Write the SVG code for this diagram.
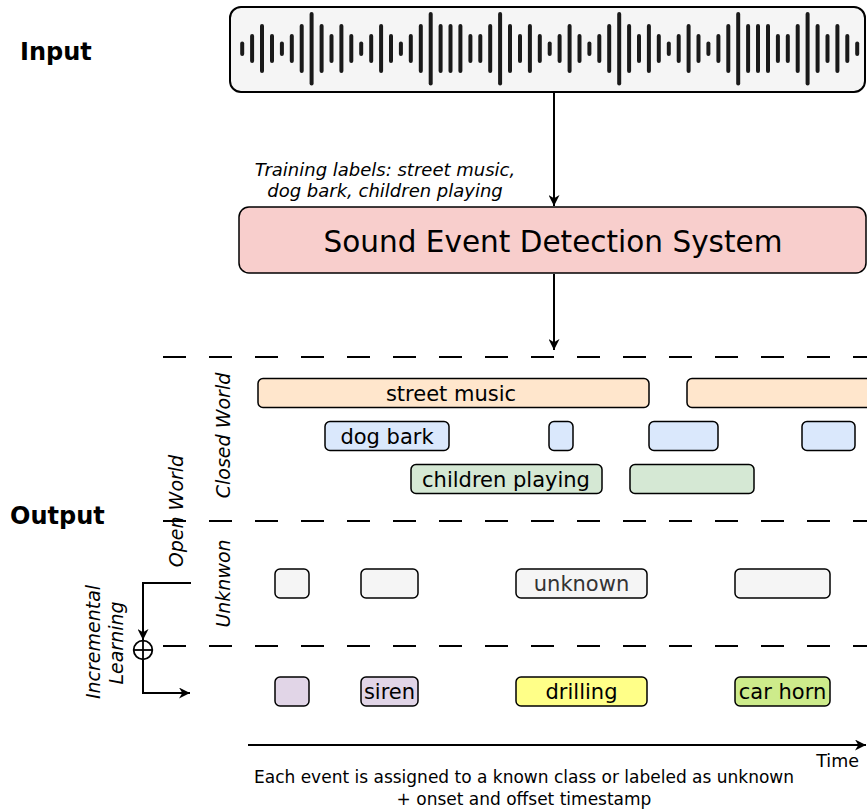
<svg xmlns="http://www.w3.org/2000/svg" xmlns:xlink="http://www.w3.org/1999/xlink" width="867" height="810" viewBox="0 0 867 810">
<style>
  text { font-family: "DejaVu Sans", Verdana, sans-serif; fill: #000; }
  .title { font-weight: bold; font-size: 24px; }
  .lbl { font-size: 21px; text-anchor: middle; }
  .side { font-size: 19px; font-style: italic; text-anchor: middle; }
  .note { font-size: 17px; text-anchor: middle; }
  .ev { stroke: #000; stroke-width: 1.5; }
  .dash { stroke: #000; stroke-width: 2; stroke-dasharray: 23 23; fill: none; }
  .conn { stroke: #000; stroke-width: 2; fill: none; }
  .bar { stroke: #1a1a1a; stroke-width: 4; stroke-linecap: round; }
</style>
<defs>
  <marker id="arr" viewBox="0 0 10 10" refX="10" refY="5" markerWidth="11" markerHeight="11" markerUnits="userSpaceOnUse" orient="auto">
    <path d="M0,0 L10,5 L0,10 L3,5 z" fill="#000"/>
  </marker>
  <line id="bS" class="bar" x1="0" y1="43.5" x2="0" y2="54"/>
  <line id="bM" class="bar" x1="0" y1="36" x2="0" y2="61"/>
  <line id="bT" class="bar" x1="0" y1="26" x2="0" y2="71"/>
  <line id="bX" class="bar" x1="0" y1="14" x2="0" y2="83.5"/>
</defs>

<g id="label-input"><text class="title" x="20" y="60" font-size="27">Input</text></g>
<g id="label-output"><text class="title" x="10" y="524">Output</text></g>

<g id="audio-input">
  <rect x="230" y="7" width="635" height="85" rx="11" fill="#f5f5f5" stroke="#000" stroke-width="2"/>
  <use xlink:href="#bS" x="242.2"/><use xlink:href="#bM" x="252.1"/><use xlink:href="#bT" x="262.0"/><use xlink:href="#bM" x="272.0"/>
  <use xlink:href="#bS" x="281.9"/><use xlink:href="#bM" x="291.8"/><use xlink:href="#bT" x="301.7"/><use xlink:href="#bX" x="311.6"/>
  <use xlink:href="#bT" x="321.6"/><use xlink:href="#bM" x="331.5"/><use xlink:href="#bT" x="341.4"/><use xlink:href="#bM" x="351.3"/>
  <use xlink:href="#bS" x="361.2"/><use xlink:href="#bM" x="371.2"/><use xlink:href="#bT" x="381.1"/><use xlink:href="#bM" x="391.0"/>
  <use xlink:href="#bS" x="400.9"/><use xlink:href="#bM" x="410.8"/><use xlink:href="#bT" x="420.8"/><use xlink:href="#bX" x="430.7"/>
  <use xlink:href="#bT" x="440.6"/><use xlink:href="#bT" x="450.5"/><use xlink:href="#bT" x="460.4"/><use xlink:href="#bM" x="470.4"/>
  <use xlink:href="#bM" x="480.3"/><use xlink:href="#bT" x="490.2"/><use xlink:href="#bX" x="500.1"/><use xlink:href="#bT" x="510.0"/>
  <use xlink:href="#bM" x="520.0"/><use xlink:href="#bT" x="529.9"/><use xlink:href="#bM" x="539.8"/><use xlink:href="#bS" x="549.7"/>
  <use xlink:href="#bM" x="559.6"/><use xlink:href="#bT" x="569.6"/><use xlink:href="#bM" x="579.5"/><use xlink:href="#bS" x="589.4"/>
  <use xlink:href="#bM" x="599.3"/><use xlink:href="#bT" x="609.2"/><use xlink:href="#bX" x="619.2"/><use xlink:href="#bT" x="629.1"/>
  <use xlink:href="#bM" x="639.0"/><use xlink:href="#bT" x="648.9"/><use xlink:href="#bM" x="658.8"/><use xlink:href="#bS" x="668.8"/>
  <use xlink:href="#bM" x="678.7"/><use xlink:href="#bT" x="688.6"/><use xlink:href="#bM" x="698.5"/><use xlink:href="#bS" x="708.4"/>
  <use xlink:href="#bM" x="718.4"/><use xlink:href="#bT" x="728.3"/><use xlink:href="#bX" x="738.2"/><use xlink:href="#bT" x="748.1"/>
  <use xlink:href="#bT" x="758.0"/><use xlink:href="#bT" x="768.0"/><use xlink:href="#bM" x="777.9"/><use xlink:href="#bM" x="787.8"/>
  <use xlink:href="#bT" x="797.7"/><use xlink:href="#bX" x="807.6"/><use xlink:href="#bT" x="817.6"/><use xlink:href="#bM" x="827.5"/>
  <use xlink:href="#bT" x="837.4"/><use xlink:href="#bM" x="847.3"/><use xlink:href="#bS" x="857.2"/>
</g>

<g id="training-labels">
  <text x="385" y="176" font-size="18" font-style="italic" text-anchor="middle">Training labels: street music,</text>
  <text x="385" y="197" font-size="18" font-style="italic" text-anchor="middle">dog bark, children playing</text>
</g>

<g id="sed-system">
  <rect x="239" y="207" width="627" height="66" rx="10" fill="#f8cecc" stroke="#000" stroke-width="1.5"/>
  <text x="553" y="252" font-size="29.5" text-anchor="middle">Sound Event Detection System</text>
</g>

<g id="connectors">
  <line class="conn" x1="554" y1="93" x2="554" y2="206" marker-end="url(#arr)"/>
  <line class="conn" x1="554" y1="274" x2="554" y2="350" marker-end="url(#arr)"/>
  <path class="conn" d="M191,583 H143 V640" marker-end="url(#arr)"/>
  <path class="conn" d="M143,659.5 V693 H190" marker-end="url(#arr)"/>
  <line class="conn" x1="248" y1="745" x2="866" y2="745" marker-end="url(#arr)"/>
</g>

<g id="incremental-merge">
  <circle cx="143" cy="650" r="9.3" fill="#fff" stroke="#000" stroke-width="1.8"/>
  <line x1="133.7" y1="650" x2="152.3" y2="650" stroke="#000" stroke-width="1.8"/>
  <line x1="143" y1="640.7" x2="143" y2="659.3" stroke="#000" stroke-width="1.8"/>
</g>

<g id="separators">
  <line class="dash" x1="163" y1="357" x2="867" y2="357"/>
  <line class="dash" x1="163" y1="521" x2="867" y2="521"/>
  <line class="dash" x1="163" y1="646" x2="867" y2="646"/>
</g>

<g id="side-labels">
  <text class="side" transform="translate(230,435.5) rotate(-90)">Closed World</text>
  <text class="side" transform="translate(183,511) rotate(-90)">Open World</text>
  <text class="side" transform="translate(230,583.5) rotate(-90)">Unknwon</text>
  <text class="side" transform="translate(100,642) rotate(-90)">Incremental</text>
  <text class="side" transform="translate(123,643) rotate(-90)">Learning</text>
</g>

<g id="street-music">
  <rect class="ev" x="258" y="378.5" width="391" height="29" rx="5" fill="#ffe6cc"/>
  <text class="lbl" x="451" y="400.5">street music</text>
  <rect class="ev" x="687" y="378.5" width="190" height="29" rx="5" fill="#ffe6cc"/>
</g>

<g id="dog-bark">
  <rect class="ev" x="325" y="421.5" width="124" height="29" rx="5" fill="#dae8fc"/>
  <text class="lbl" x="387" y="443.5">dog bark</text>
  <rect class="ev" x="549" y="421.5" width="24" height="29" rx="5" fill="#dae8fc"/>
  <rect class="ev" x="649" y="421.5" width="69" height="29" rx="5" fill="#dae8fc"/>
  <rect class="ev" x="802" y="421.5" width="53" height="29" rx="5" fill="#dae8fc"/>
</g>

<g id="children-playing">
  <rect class="ev" x="411" y="464.5" width="191" height="29" rx="5" fill="#d5e8d4"/>
  <text class="lbl" x="506" y="486.5">children playing</text>
  <rect class="ev" x="630" y="464.5" width="124" height="29" rx="5" fill="#d5e8d4"/>
</g>

<g id="unknown">
  <rect class="ev" x="275" y="569" width="34" height="29" rx="5" fill="#f5f5f5"/>
  <rect class="ev" x="361" y="569" width="57" height="29" rx="5" fill="#f5f5f5"/>
  <rect class="ev" x="516" y="569" width="131" height="29" rx="5" fill="#f5f5f5"/>
  <text class="lbl" x="581.5" y="591" style="fill:#333333">unknown</text>
  <rect class="ev" x="735" y="569" width="95" height="29" rx="5" fill="#f5f5f5"/>
</g>

<g id="new-classes">
  <rect class="ev" x="275" y="677" width="34" height="29" rx="5" fill="#e1d5e7"/>
  <rect class="ev" x="361" y="677" width="57" height="29" rx="5" fill="#e1d5e7"/>
  <text class="lbl" x="389.5" y="699">siren</text>
  <rect class="ev" x="516" y="677" width="131" height="29" rx="5" fill="#ffff88"/>
  <text class="lbl" x="581.5" y="699">drilling</text>
  <rect class="ev" x="735" y="677" width="95" height="29" rx="5" fill="#cdeb8b"/>
  <text class="lbl" x="782.5" y="699">car horn</text>
</g>

<g id="time-axis">
  <text x="859" y="767" font-size="17.5" text-anchor="end">Time</text>
  <text class="note" x="524" y="783">Each event is assigned to a known class or labeled as unknown</text>
  <text class="note" x="524" y="805">+ onset and offset timestamp</text>
</g>
</svg>
